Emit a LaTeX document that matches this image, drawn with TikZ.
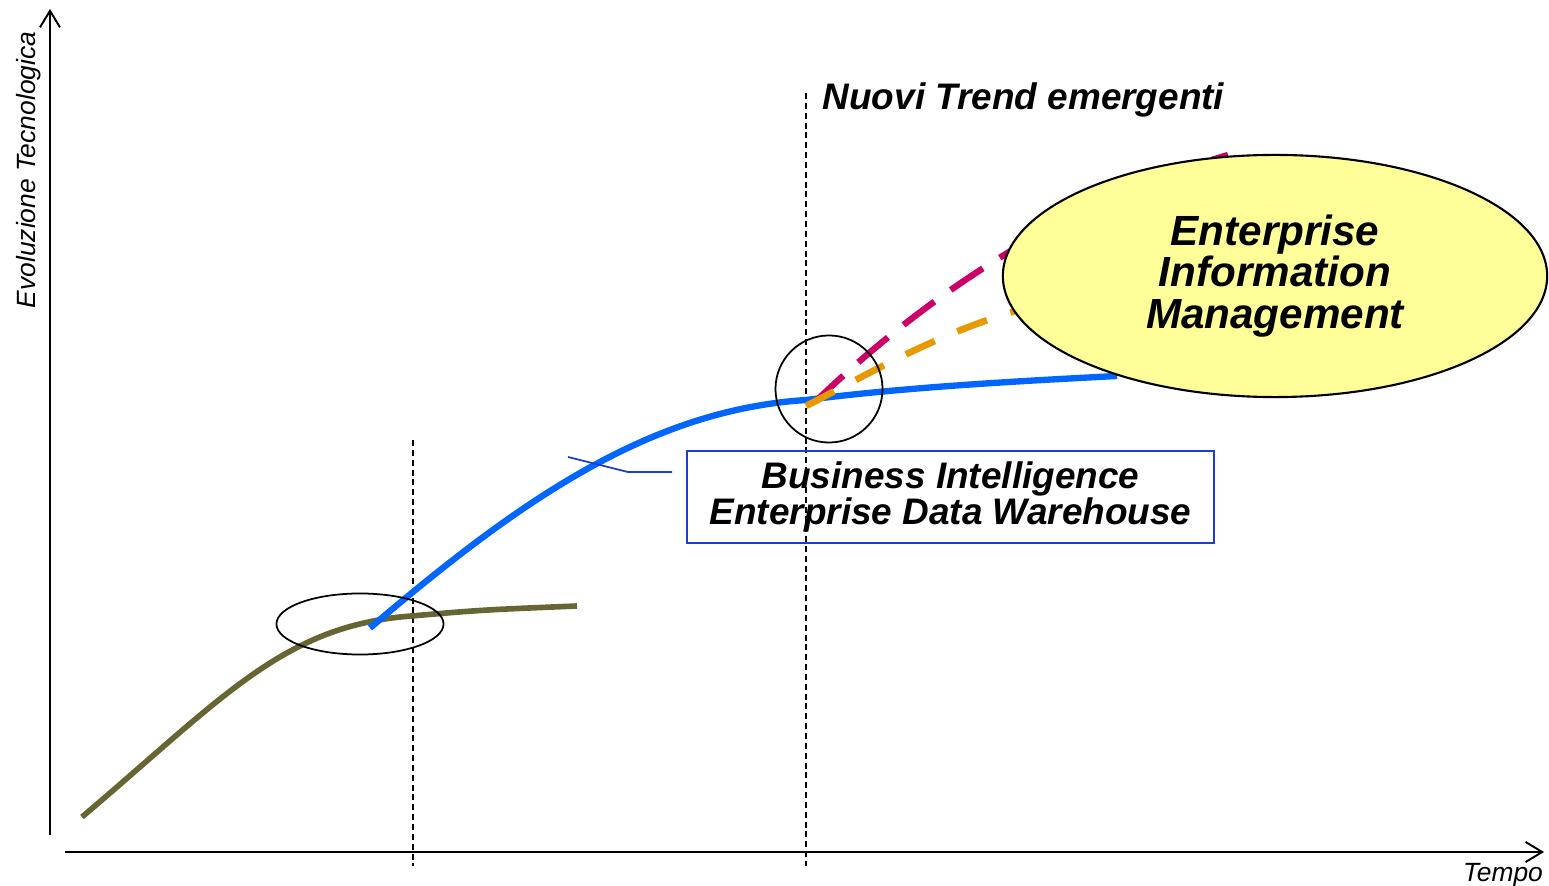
\documentclass[tikz,border=0pt]{standalone}
\usepackage{fontspec}
\setmainfont{Liberation Sans}
\usetikzlibrary{shapes.geometric,arrows.meta,positioning}

\definecolor{bicurve}{HTML}{0066FF}
\definecolor{dwcurve}{HTML}{666633}
\definecolor{eimred}{HTML}{CC0066}
\definecolor{eimorange}{HTML}{E69900}
\definecolor{eimyellow}{HTML}{FFFF99}
\definecolor{boxblue}{HTML}{1A3FCC}

\begin{document}
\begin{tikzpicture}[
    x=0.01cm, y=-0.01cm,
    axis/.style={
        line width=0.55pt,
        -{Straight Barb[length=4.7pt,width=5.7pt]}
    },
    divider/.style={
        dash pattern=on 1.7pt off 1.1pt,
        line width=0.35pt
    },
    curve/.style={line width=1.8pt},
    trendline/.style={line width=1.8pt},
    marker/.style={draw, line width=0.5pt, inner sep=0pt},
    label/.style={font=\itshape\fontsize{7.5}{9}\selectfont, inner sep=0pt},
    heading/.style={font=\bfseries\itshape\fontsize{10.5}{10}\selectfont, inner sep=0pt}
]

    % Fix the page to the size of the reference
    \useasboundingbox (0,0) rectangle (1549,886);

    % Axes
    \coordinate (origin y) at (50,835);
    \coordinate (top y) at (50,9);
    \coordinate (origin x) at (65,852);
    \coordinate (end x) at (1544,852);
    \draw[axis] (origin y) -- (top y);
    \draw[axis] (origin x) -- (end x);
    \node[label, rotate=90] (ylabel) at (29,170) {Evoluzione Tecnologica};
    \node[label] (xlabel) at (1503,875) {Tempo};

    % Dashed lines that split the time line
    \coordinate (split1 top) at (413,440);
    \coordinate (split1 bottom) at (413,866);
    \coordinate (split2 top) at (806,93);
    \coordinate (split2 bottom) at (806,866);
    \draw[divider] (split1 top) -- (split1 bottom);
    \draw[divider] (split2 top) -- (split2 bottom);

    \node[heading, anchor=west] (trends) at (822,100) {Nuovi Trend emergenti};

    % First curve (olive)
    \draw[curve, dwcurve, line width=1.6pt] (82,817) .. controls (220,700) and (280,630) .. (400,617)
        .. controls (480,610) .. (577,606);

    % Second curve (blue)
    \draw[curve, bicurve] (370,628) .. controls (520,500) and (650,410) .. (806,400)
        .. controls (900,388) and (1000,382) .. (1117,376);

    % Emerging trends, dashed
    \draw[trendline, eimred, dash pattern=on 11pt off 5.7pt]
        (815,402) .. controls (900,320) and (1040,210) .. (1228,155);
    \draw[trendline, eimorange, line width=1.9pt, dash pattern=on 9pt off 7pt]
        (806,406) .. controls (880,368) and (960,320) .. (1060,300);

    % Circles round the change points
    \node[marker, ellipse, minimum width=1.67cm, minimum height=0.61cm] (change1) at (360,624) {};
    \node[marker, circle, minimum size=1.07cm] (change2) at (829,389) {};

    % Big ellipse on top
    \node[ellipse, draw, line width=0.6pt, fill=eimyellow, inner sep=0pt,
          minimum width=5.44cm, minimum height=2.42cm, align=center,
          font=\bfseries\itshape\fontsize{12}{11.7}\selectfont] (eim) at (1275,276)
          {Enterprise\\Information\\Management};

    % Label box with its callout
    \node[draw=boxblue, line width=0.6pt, minimum width=5.27cm, minimum height=0.92cm,
          align=center, inner sep=0pt,
          font=\bfseries\itshape\fontsize{10.5}{10}\selectfont] (bibox) at (950.5,497)
          {Business Intelligence\\Enterprise Data Warehouse};
    \coordinate (callout) at (672,472);
    \coordinate (bend) at (628,472);
    \coordinate (bitip) at (568,457);
    \draw[boxblue, line width=0.5pt] (callout) -- (bend) -- (bitip);

\end{tikzpicture}
\end{document}
